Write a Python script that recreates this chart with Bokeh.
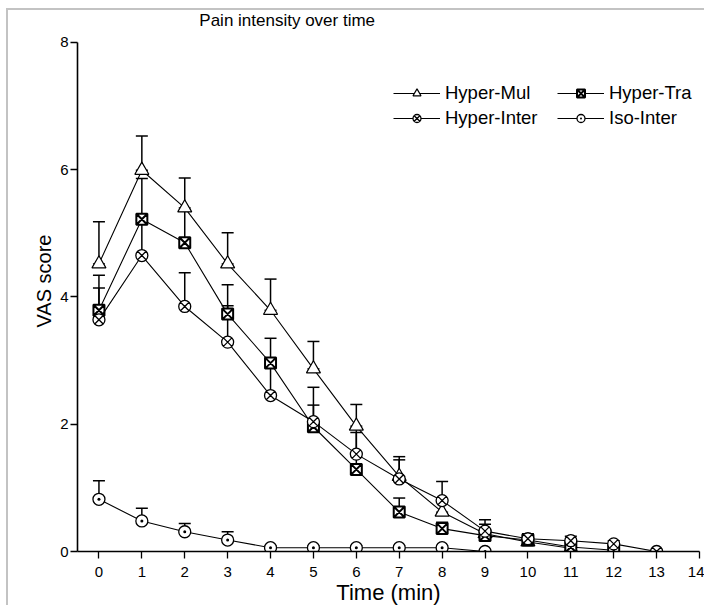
from bokeh.plotting import figure
from bokeh.models import (ColumnDataSource, Range1d, FixedTicker, Whisker, TeeHead,
                          Legend, LegendItem, Label)
from bokeh.embed import file_html
from bokeh.resources import INLINE

# ---------------- data ----------------
time_ticks = list(range(0, 15))
vas_ticks = [0, 2, 4, 6, 8]

mul_t = list(range(0, 12))
mul_v = [4.52, 5.99, 5.40, 4.52, 3.79, 2.87, 1.97, 1.18, 0.62, 0.28, 0.15, 0.05]
mul_e = [0.66, 0.54, 0.47, 0.49, 0.49, 0.43, 0.34, 0.31, 0.20, 0.15, 0.10, 0.05]

tra_t = list(range(0, 13))
tra_v = [3.79, 5.22, 4.85, 3.73, 2.96, 1.96, 1.29, 0.62, 0.36, 0.25, 0.18, 0.07, 0.02]
tra_e = [0.55, 0.64, 0.50, 0.46, 0.39, 0.34, 0.58, 0.22, 0.10, 0.10, 0.08, 0.05, 0.03]

inter_t = list(range(0, 14))
inter_v = [3.64, 4.65, 3.85, 3.29, 2.45, 2.04, 1.53, 1.14, 0.80, 0.32, 0.20, 0.17, 0.12, 0.00]
inter_e = [0.50, 0.55, 0.53, 0.57, 0.50, 0.54, 0.40, 0.30, 0.30, 0.18, 0.08, 0.07, 0.05, 0.00]

iso_t = list(range(0, 10))
iso_v = [0.82, 0.48, 0.31, 0.18, 0.06, 0.06, 0.06, 0.06, 0.06, 0.00]
iso_e = [0.29, 0.20, 0.13, 0.13, 0.03, 0.03, 0.03, 0.03, 0.03, 0.00]

series = [
    ("Hyper-Mul", mul_t, mul_v, mul_e, "triangle", 14, 1.2, True),
    ("Hyper-Tra", tra_t, tra_v, tra_e, "square_x", 11, 2.0, False),
    ("Hyper-Inter", inter_t, inter_v, inter_e, "circle_x", 12, 1.3, False),
    ("Iso-Inter", iso_t, iso_v, iso_e, "circle_dot", 12, 1.3, False),
]

FONT = "Liberation Sans"

p = figure(width=698, height=597, output_backend="svg", toolbar_location=None,
           x_range=Range1d(-0.5, 14), y_range=Range1d(0, 8.5),
           min_border_left=69, min_border_right=7, min_border_top=0, min_border_bottom=56,
           margin=(8, 0, 0, 6),
           styles={"border-left": "2px solid #c3c3c3", "border-top": "2px solid #c3c3c3"})
p.outline_line_color = None
p.grid.visible = False
p.background_fill_color = "white"
p.border_fill_color = "white"

for ax in (p.xaxis[0], p.yaxis[0]):
    ax.axis_line_width = 1.6
    ax.axis_line_color = "black"
    ax.major_tick_line_width = 1.3
    ax.major_tick_line_color = "black"
    ax.major_tick_out = 7
    ax.major_tick_in = 0
    ax.minor_tick_line_color = None
    ax.major_label_text_font = FONT
    ax.major_label_text_font_size = "15px"
    ax.major_label_text_color = "black"
    ax.axis_label_text_font = FONT
    ax.axis_label_text_font_style = "normal"
    ax.axis_label_text_color = "black"

p.xaxis.ticker = FixedTicker(ticks=time_ticks)
p.yaxis.ticker = FixedTicker(ticks=vas_ticks)
p.yaxis.bounds = (0, 8)
p.xaxis.axis_label = "Time (min)"
p.yaxis.axis_label = "VAS score"
p.xaxis.axis_label_text_font_size = "22px"
p.yaxis.axis_label_text_font_size = "20px"
p.xaxis.major_label_standoff = 8
p.xaxis.axis_label_standoff = 0
p.yaxis.major_label_standoff = 2
p.yaxis.axis_label_standoff = 2

items = []
for name, t, v, e, marker, size, lw, lower_cap in series:
    top = [vi + ei for vi, ei in zip(v, e)]
    src = ColumnDataSource(dict(t=t, v=v, top=top))
    lr = p.line("t", "v", source=src, line_color="black", line_width=1.1)
    sr = p.scatter("t", "v", source=src, marker=marker, size=size,
                   line_color="black", line_width=lw, fill_color="white")
    items.append(LegendItem(label=name, renderers=[lr, sr]))
    keep = [i for i in range(len(t)) if e[i] > 0]
    wsrc = ColumnDataSource(dict(t=[t[i] for i in keep], v=[v[i] for i in keep],
                                 top=[top[i] for i in keep]))
    w = Whisker(source=wsrc, base="t", lower="v", upper="top", dimension="height",
                line_color="black", line_width=1.5,
                upper_head=TeeHead(size=12, line_width=1.5, line_color="black"),
                lower_head=(TeeHead(size=12, line_width=1.3, line_color="black") if lower_cap else None))
    p.add_layout(w)

legend = Legend(items=items, orientation="horizontal", ncols=2, location=(316, 422),
                glyph_width=47, glyph_height=20, label_standoff=5, spacing=3,
                label_width=109, padding=0, margin=0, border_line_color=None,
                background_fill_alpha=0, label_text_font=FONT,
                label_text_font_size="18.5px", label_text_color="black")
p.add_layout(legend)

title = Label(x=2.34, y=8.35, text="Pain intensity over time", text_font=FONT,
              text_font_size="17px", text_baseline="middle", text_align="left",
              text_color="black")
p.add_layout(title)

open("out.html", "w").write(file_html(p, INLINE))
